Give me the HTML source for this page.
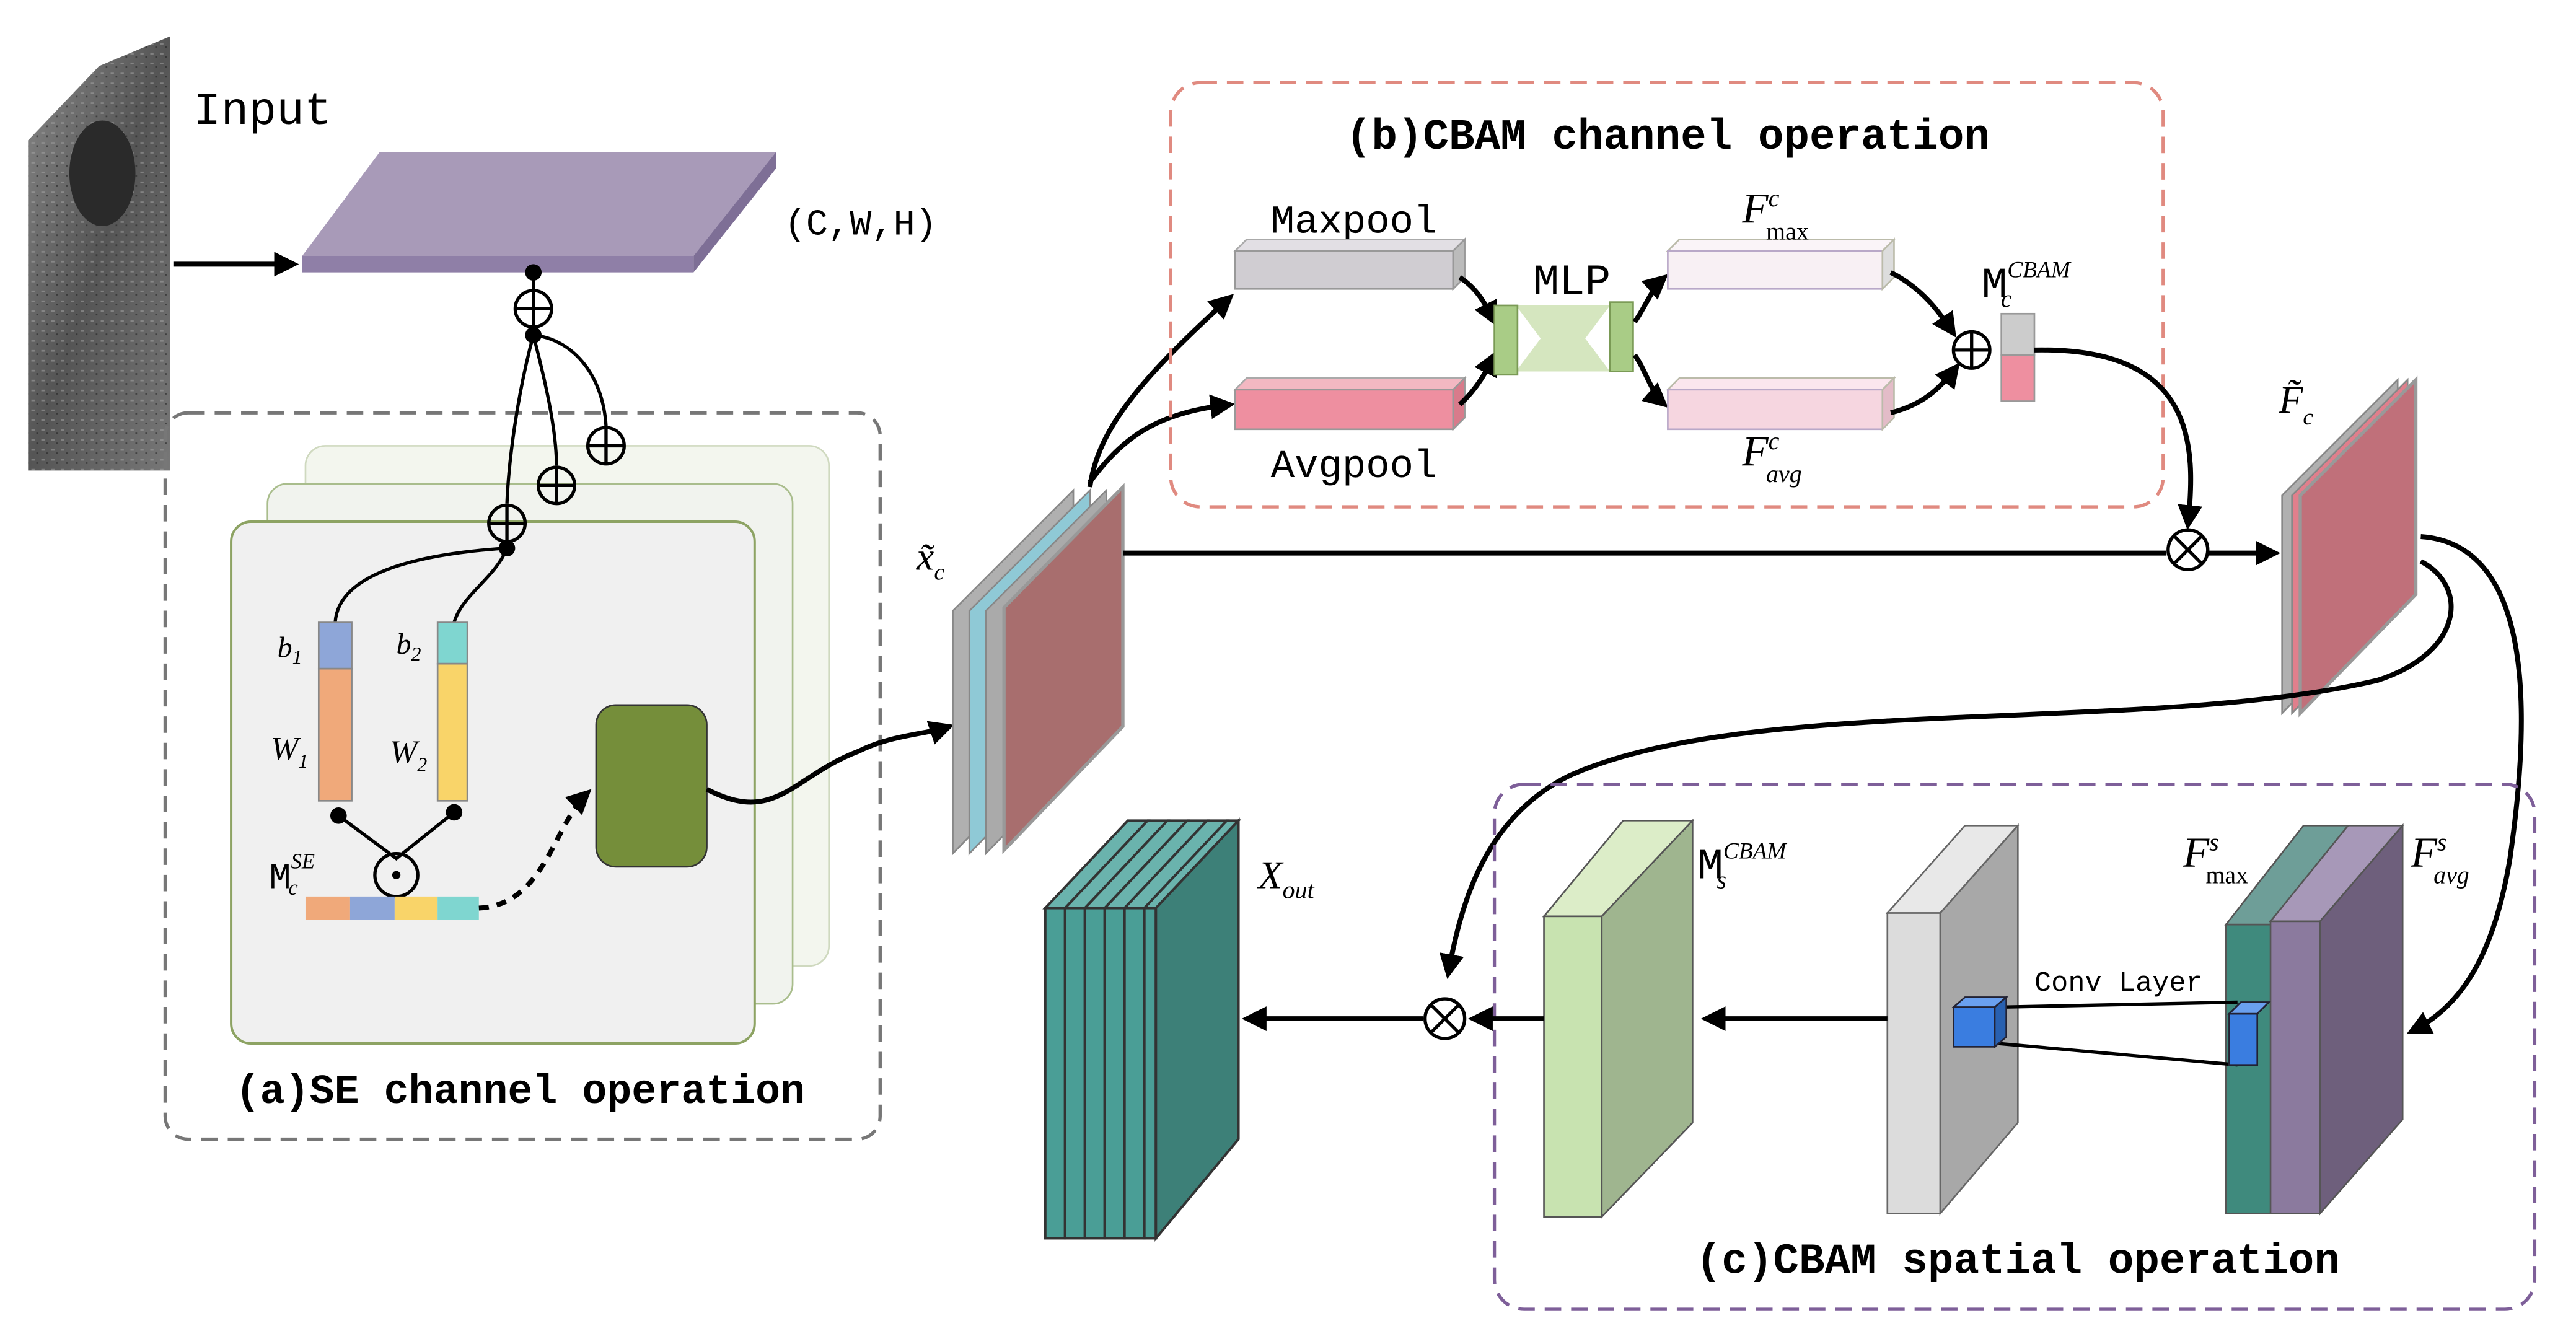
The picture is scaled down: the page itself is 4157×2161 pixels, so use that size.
<!DOCTYPE html>
<html><head><meta charset="utf-8"><style>
html,body{margin:0;padding:0;background:#fff;}
svg{display:block;}
text{font-family:"Liberation Mono",monospace;}
.s{font-family:"Liberation Serif",serif;font-style:italic;}
</style></head><body>
<svg width="4157" height="2161" viewBox="0 0 1560 811" preserveAspectRatio="none" xmlns="http://www.w3.org/2000/svg">
<defs>
<marker id="ar" viewBox="0 0 10 10" refX="8" refY="5" markerWidth="5" markerHeight="5" orient="auto"><path d="M0,0L10,5L0,10z" fill="#000"/></marker>
<linearGradient id="us" x1="0" y1="0" x2="1" y2="1"><stop offset="0" stop-color="#888"/><stop offset="0.5" stop-color="#555"/><stop offset="1" stop-color="#777"/></linearGradient>
<pattern id="nz" width="6" height="6" patternUnits="userSpaceOnUse"><rect width="6" height="6" fill="none"/><rect x="1" y="2" width="2" height="1" fill="#aaa" opacity="0.5"/><rect x="4" y="4" width="1" height="1" fill="#222" opacity="0.6"/></pattern>
</defs>
<!-- input image -->
<polygon points="17,85 60,40 103,22 103,285 17,285" fill="url(#us)"/>
<polygon points="17,85 60,40 103,22 103,285 17,285" fill="url(#nz)"/>
<ellipse cx="62" cy="105" rx="20" ry="32" fill="#2a2a2a"/>
<text x="117" y="75" font-size="28">Input</text>
<line x1="105" y1="160" x2="178" y2="160" stroke="#000" stroke-width="3" marker-end="url(#ar)"/>
<!-- slab -->
<polygon points="230,92 470,92 420,155 183,155" fill="#a89ab8"/>
<polygon points="183,155 420,155 420,165 183,165" fill="#8f7fa7"/>
<polygon points="420,155 470,92 470,102 420,165" fill="#7e6f96"/>
<text x="475" y="142" font-size="22">(C,W,H)</text>
<!-- SE box -->
<rect x="100" y="250" width="433" height="440" rx="14" fill="none" stroke="#777" stroke-width="2" stroke-dasharray="10,6"/>
<rect x="185" y="270" width="317" height="315" rx="12" fill="#f3f6ee" stroke="#cfd9bf"/>
<rect x="162" y="293" width="318" height="315" rx="12" fill="#f1f3ee" stroke="#a9bd8c"/>
<rect x="140" y="316" width="317" height="316" rx="12" fill="#f0f0f0" stroke="#8da363" stroke-width="1.5"/>
<g stroke="#000" stroke-width="2" fill="none">
<path d="M323,165 L323,175"/><path d="M323,199 L323,205"/>
<path d="M323,203 C345,205 365,225 367,258"/>
<path d="M323,203 C330,230 337,260 337,282"/>
<path d="M323,203 C313,240 308,280 307,305"/>
<path d="M307,329 L307,332 C260,335 205,345 203,377"/>
<path d="M307,332 C300,350 280,360 275,377"/>
<path d="M205,494 L240,520 L275,492"/>
</g>
<g fill="none" stroke="#000" stroke-width="2">
<circle cx="323" cy="187" r="11"/><path d="M312,187h22M323,176v22"/>
<circle cx="367" cy="270" r="11"/><path d="M356,270h22M367,259v22"/>
<circle cx="337" cy="294" r="11"/><path d="M326,294h22M337,283v22"/>
<circle cx="307" cy="317" r="11"/><path d="M296,317h22M307,306v22"/>
<circle cx="240" cy="530" r="13"/>
</g>
<circle cx="240" cy="530" r="2.5"/>
<circle cx="323" cy="165" r="5"/><circle cx="323" cy="203" r="5"/><circle cx="307" cy="332" r="5"/>
<circle cx="205" cy="494" r="5"/><circle cx="275" cy="492" r="5"/>
<rect x="193" y="377" width="20" height="28" fill="#8ea6d8" stroke="#888"/>
<rect x="193" y="405" width="20" height="80" fill="#f0a97a" stroke="#888"/>
<rect x="265" y="377" width="18" height="25" fill="#7fd6d0" stroke="#888"/>
<rect x="265" y="402" width="18" height="83" fill="#f9d469" stroke="#888"/>
<text class="s" x="168" y="398" font-size="18">b<tspan font-size="12" dy="4">1</tspan></text>
<text class="s" x="240" y="396" font-size="18">b<tspan font-size="12" dy="4">2</tspan></text>
<text class="s" x="164" y="460" font-size="20">W<tspan font-size="12" dy="5">1</tspan></text>
<text class="s" x="236" y="462" font-size="20">W<tspan font-size="12" dy="5">2</tspan></text>
<text x="163" y="538" font-size="22" font-family="Liberation Serif">M<tspan class="s" font-size="13" dy="-12">SE</tspan><tspan class="s" font-size="13" dx="-16" dy="16">c</tspan></text>
<rect x="185" y="543" width="27" height="14" fill="#f0a97a"/><rect x="212" y="543" width="27" height="14" fill="#8ea6d8"/>
<rect x="239" y="543" width="26" height="14" fill="#f9d469"/><rect x="265" y="543" width="25" height="14" fill="#7fd6d0"/>
<path d="M290,550 C330,548 335,500 356,480" fill="none" stroke="#000" stroke-width="3" stroke-dasharray="6,5" marker-end="url(#ar)"/>
<rect x="361" y="427" width="67" height="98" rx="12" fill="#758e3a" stroke="#333"/>
<path d="M428,478 C470,500 480,470 520,455 C540,445 560,445 575,440" fill="none" stroke="#000" stroke-width="3" marker-end="url(#ar)"/>
<text x="315" y="668" font-size="25" font-weight="bold" text-anchor="middle">(a)SE channel operation</text>
<!-- x_c block -->
<polygon points="577,370 650,297 650,442 577,517" fill="#b0b0b0" stroke="#888"/>
<polygon points="587,370 660,297 660,442 587,517" fill="#8fc9d6" stroke="#888"/>
<polygon points="597,370 670,297 670,442 597,517" fill="#aaa" stroke="#888"/>
<polygon points="608,368 680,295 680,440 608,515" fill="#a86e6e" stroke="#999" stroke-width="2"/>
<text class="s" x="555" y="345" font-size="24">x̃<tspan font-size="14" dy="6">c</tspan></text>
<path d="M660,295 C665,260 690,230 745,180" fill="none" stroke="#000" stroke-width="3" marker-end="url(#ar)"/>
<path d="M660,292 C680,265 700,250 745,245" fill="none" stroke="#000" stroke-width="3" marker-end="url(#ar)"/>
<line x1="680" y1="335" x2="1312" y2="335" stroke="#000" stroke-width="3"/>
<!-- CBAM channel -->
<rect x="709" y="50" width="601" height="257" rx="18" fill="none" stroke="#e08a80" stroke-width="2" stroke-dasharray="10,6"/>
<text x="1010" y="90" font-size="26" font-weight="bold" text-anchor="middle">(b)CBAM channel operation</text>
<text x="820" y="141" font-size="24" text-anchor="middle">Maxpool</text>
<text x="820" y="289" font-size="24" text-anchor="middle">Avgpool</text>
<polygon points="748,152 880,152 887,145 755,145" fill="#e2dfe4" stroke="#aaa"/>
<rect x="748" y="152" width="132" height="23" fill="#d0cdd2" stroke="#999"/>
<polygon points="880,152 887,145 887,168 880,175" fill="#bbb" stroke="#999"/>
<polygon points="748,236 880,236 887,229 755,229" fill="#f3b8c2" stroke="#aaa"/>
<rect x="748" y="236" width="132" height="24" fill="#ee8fa0" stroke="#999"/>
<polygon points="880,236 887,229 887,253 880,260" fill="#d87b8b" stroke="#999"/>
<path d="M884,168 C895,175 900,185 905,195" fill="none" stroke="#000" stroke-width="3" marker-end="url(#ar)"/>
<path d="M884,245 C895,235 900,225 905,215" fill="none" stroke="#000" stroke-width="3" marker-end="url(#ar)"/>
<text x="952" y="178" font-size="26" font-family="Liberation Sans" text-anchor="middle">MLP</text>
<polygon points="918,185 975,185 960,205 975,225 918,225 933,205" fill="#d5e6bf"/>
<rect x="905" y="185" width="14" height="42" fill="#a9cc86" stroke="#7a9a55"/>
<rect x="975" y="183" width="14" height="42" fill="#a9cc86" stroke="#7a9a55"/>
<path d="M990,195 C997,185 1000,175 1008,168" fill="none" stroke="#000" stroke-width="3" marker-end="url(#ar)"/>
<path d="M990,215 C997,225 1000,238 1008,245" fill="none" stroke="#000" stroke-width="3" marker-end="url(#ar)"/>
<polygon points="1010,152 1140,152 1147,145 1017,145" fill="#faf4f8" stroke="#bba"/>
<rect x="1010" y="152" width="130" height="23" fill="#f8f0f4" stroke="#b9a8c8"/>
<polygon points="1140,152 1147,145 1147,168 1140,175" fill="#ddd" stroke="#bba"/>
<polygon points="1010,236 1140,236 1147,229 1017,229" fill="#fbe6ee" stroke="#bba"/>
<rect x="1010" y="236" width="130" height="24" fill="#f6d6e0" stroke="#b9a8c8"/>
<polygon points="1140,236 1147,229 1147,253 1140,260" fill="#e3bcc8" stroke="#bba"/>
<text class="s" x="1055" y="135" font-size="26" font-family="Liberation Serif">F<tspan font-size="15" dy="-10">c</tspan><tspan font-size="15" font-style="normal" dx="-8" dy="20">max</tspan></text>
<text class="s" x="1055" y="282" font-size="26" font-family="Liberation Serif">F<tspan font-size="15" dy="-10">c</tspan><tspan font-size="15" dx="-8" dy="20">avg</tspan></text>
<path d="M1145,165 C1165,175 1175,190 1183,202" fill="none" stroke="#000" stroke-width="3" marker-end="url(#ar)"/>
<path d="M1145,250 C1165,245 1175,235 1185,222" fill="none" stroke="#000" stroke-width="3" marker-end="url(#ar)"/>
<g fill="none" stroke="#000" stroke-width="2"><circle cx="1194" cy="212" r="11"/><path d="M1183,212h22M1194,201v22"/></g>
<text x="1200" y="180" font-size="26" font-family="Liberation Serif">M<tspan class="s" font-size="14" dy="-12">CBAM</tspan><tspan class="s" font-size="15" dx="-42" dy="18">c</tspan></text>
<rect x="1212" y="190" width="20" height="25" fill="#ccc" stroke="#999"/>
<rect x="1212" y="215" width="20" height="28" fill="#ee8fa0" stroke="#999"/>
<path d="M1232,212 C1330,210 1330,270 1325,318" fill="none" stroke="#000" stroke-width="3" marker-end="url(#ar)"/>
<g fill="none" stroke="#000" stroke-width="2"><circle cx="1325" cy="333" r="12"/><path d="M1317,325l16,16M1333,325l-16,16"/></g>
<line x1="1337" y1="335" x2="1378" y2="335" stroke="#000" stroke-width="3" marker-end="url(#ar)"/>
<!-- F_c -->
<polygon points="1382,300 1452,230 1452,360 1382,432" fill="#b0b0b0" stroke="#888"/>
<polygon points="1388,300 1458,230 1458,360 1388,432" fill="#e07f8c" stroke="#888"/>
<polygon points="1393,300 1463,230 1463,360 1393,432" fill="#c0707a" stroke="#999" stroke-width="2"/>
<text class="s" x="1380" y="250" font-size="24" font-family="Liberation Serif">F̃<tspan font-size="14" dy="7">c</tspan></text>
<path d="M1466,325 C1540,330 1530,450 1520,520 C1510,580 1490,610 1460,625" fill="none" stroke="#000" stroke-width="3" marker-end="url(#ar)"/>
<path d="M1466,340 C1495,355 1492,395 1440,412 C1300,445 1060,420 950,470 C900,495 885,545 877,590" fill="none" stroke="#000" stroke-width="3" marker-end="url(#ar)"/>
<!-- spatial box -->
<rect x="905" y="475" width="630" height="318" rx="18" fill="none" stroke="#7e5f99" stroke-width="2" stroke-dasharray="10,6"/>
<text x="1222" y="771" font-size="26" font-weight="bold" text-anchor="middle">(c)CBAM spatial operation</text>
<!-- F max/avg -->
<polygon points="1348,560 1395,500 1425,500 1378,560" fill="#6e9e98" stroke="#555"/>
<rect x="1348" y="560" width="30" height="175" fill="#3f8a7d" stroke="#555"/>
<polygon points="1375,558 1422,500 1455,500 1405,558" fill="#a798b8" stroke="#555"/>
<rect x="1375" y="558" width="30" height="177" fill="#8b7a9e" stroke="#555"/>
<polygon points="1405,558 1455,500 1455,678 1405,735" fill="#6e5f7c" stroke="#555"/>
<text class="s" x="1322" y="525" font-size="26" font-family="Liberation Serif">F<tspan font-size="15" dy="-10">s</tspan><tspan font-size="15" font-style="normal" dx="-8" dy="20">max</tspan></text>
<text class="s" x="1460" y="525" font-size="26" font-family="Liberation Serif">F<tspan font-size="15" dy="-10">s</tspan><tspan font-size="15" dx="-8" dy="20">avg</tspan></text>
<!-- conv layer -->
<polygon points="1143,553 1190,500 1222,500 1175,553" fill="#e8e8e8" stroke="#666"/>
<rect x="1143" y="553" width="32" height="182" fill="#dcdcdc" stroke="#666"/>
<polygon points="1175,553 1222,500 1222,680 1175,735" fill="#a8a8a8" stroke="#666"/>
<line x1="1210" y1="610" x2="1355" y2="607" stroke="#000" stroke-width="2"/>
<line x1="1210" y1="632" x2="1355" y2="645" stroke="#000" stroke-width="2"/>
<rect x="1183" y="610" width="25" height="24" fill="#3a7de0" stroke="#223"/>
<polygon points="1183,610 1190,604 1215,604 1208,610" fill="#6aa0ef" stroke="#223"/>
<polygon points="1208,610 1215,604 1215,628 1208,634" fill="#2860b0" stroke="#223"/>
<rect x="1350" y="614" width="17" height="31" fill="#3a7de0" stroke="#223"/>
<polygon points="1350,614 1357,607 1374,607 1367,614" fill="#6aa0ef" stroke="#223"/>
<text x="1283" y="600" font-size="17" text-anchor="middle">Conv Layer</text>
<line x1="1143" y1="617" x2="1033" y2="617" stroke="#000" stroke-width="3" marker-end="url(#ar)"/>
<!-- M_s -->
<polygon points="935,555 983,497 1025,497 970,555" fill="#dcedc8" stroke="#555"/>
<rect x="935" y="555" width="35" height="182" fill="#c8e3b0" stroke="#555"/>
<polygon points="970,555 1025,497 1025,680 970,737" fill="#9fb58f" stroke="#555"/>
<text x="1028" y="532" font-size="26" font-family="Liberation Serif">M<tspan class="s" font-size="14" dy="-12">CBAM</tspan><tspan class="s" font-size="15" dx="-42" dy="18">s</tspan></text>
<line x1="935" y1="617" x2="892" y2="617" stroke="#000" stroke-width="3" marker-end="url(#ar)"/>
<g fill="none" stroke="#000" stroke-width="2"><circle cx="875" cy="617" r="12"/><path d="M867,609l16,16M883,609l-16,16"/></g>
<line x1="862" y1="617" x2="755" y2="617" stroke="#000" stroke-width="3" marker-end="url(#ar)"/>
<!-- X_out -->
<g stroke="#333" stroke-width="1.5">
<polygon points="633,550 683,497 695,497 645,550" fill="#6ab3ad"/><rect x="633" y="550" width="12" height="200" fill="#4a9e96"/>
<polygon points="645,550 695,497 707,497 657,550" fill="#6ab3ad"/><rect x="645" y="550" width="12" height="200" fill="#4a9e96"/>
<polygon points="657,550 707,497 719,497 669,550" fill="#6ab3ad"/><rect x="657" y="550" width="12" height="200" fill="#4a9e96"/>
<polygon points="669,550 719,497 731,497 681,550" fill="#6ab3ad"/><rect x="669" y="550" width="12" height="200" fill="#4a9e96"/>
<polygon points="681,550 731,497 743,497 693,550" fill="#6ab3ad"/><rect x="681" y="550" width="12" height="200" fill="#4a9e96"/>
<polygon points="693,550 743,497 750,497 700,550" fill="#6ab3ad"/><rect x="693" y="550" width="7" height="200" fill="#4a9e96"/>
<polygon points="700,550 750,497 750,690 700,750" fill="#3d8078"/>
</g>
<text class="s" x="762" y="538" font-size="24" font-family="Liberation Serif">X<tspan font-size="15" dy="6">out</tspan></text>
</svg>
</body></html>
